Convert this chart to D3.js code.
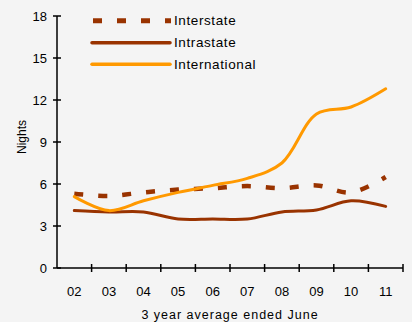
<!DOCTYPE html>
<html>
<head>
<meta charset="utf-8">
<script src="https://cdn.jsdelivr.net/npm/d3@7"></script>
<style>
  body { margin: 0; background: #f4f4f4; }
  svg { display: block; font-family: "Liberation Sans", Arial, sans-serif; }
</style>
</head>
<body>
<div id="chart"></div>
<script>
var years = ["02", "03", "04", "05", "06", "07", "08", "09", "10", "11"];
var interstate = [5.3, 5.15, 5.4, 5.6, 5.7, 5.85, 5.7, 5.9, 5.4, 6.5];
var intrastate = [4.1, 4.0, 4.0, 3.5, 3.5, 3.5, 4.0, 4.15, 4.8, 4.4];
var international = [5.1, 4.1, 4.8, 5.4, 5.9, 6.4, 7.5, 11.0, 11.5, 12.8];
var yTicks = [0, 3, 6, 9, 12, 15, 18];

var chartW = 412, chartH = 322;
var plotLeft = 57, plotRight = 403, plotTop = 16, plotBottom = 268;

var svg = d3.select("#chart").append("svg")
    .attr("width", chartW)
    .attr("height", chartH);

svg.append("rect").attr("width", chartW).attr("height", chartH).attr("fill", "#f4f4f4");

var x = d3.scaleBand().domain(years).range([plotLeft, plotRight]);
var y = d3.scaleLinear().domain([0, 18]).range([plotBottom, plotTop]);

// series
var series = [
    {name: "Interstate", values: interstate, color: "#993300", width: 4.5, dash: "9,15"},
    {name: "Intrastate", values: intrastate, color: "#993300", width: 3, dash: null},
    {name: "International", values: international, color: "#ff9900", width: 3, dash: null}
];

var line = d3.line()
    .x(function(d, i) { return x(years[i]) + x.bandwidth() / 2; })
    .y(function(d) { return y(d); })
    .curve(d3.curveCatmullRom.alpha(0.5));

series.forEach(function(s) {
    svg.append("path")
        .attr("d", line(s.values))
        .attr("fill", "none")
        .attr("stroke", s.color)
        .attr("stroke-width", s.width)
        .attr("stroke-dasharray", s.dash)
        .attr("stroke-linecap", s.dash ? "butt" : "round");
});

// axes
var yAxis = svg.append("g").attr("transform", "translate(" + plotLeft + ",0)");
yAxis.append("line").attr("y1", y(18)).attr("y2", y(0)).attr("stroke", "#000").attr("stroke-width", 1.5);
yAxis.selectAll(".tick").data(yTicks).enter().append("line")
    .attr("x1", -4).attr("x2", 4)
    .attr("y1", function(d) { return y(d); })
    .attr("y2", function(d) { return y(d); })
    .attr("stroke", "#000").attr("stroke-width", 1.5);
yAxis.selectAll(".lbl").data(yTicks).enter().append("text")
    .attr("x", -10)
    .attr("y", function(d) { return y(d); })
    .attr("dy", "0.35em")
    .attr("text-anchor", "end")
    .attr("font-size", 13)
    .text(function(d) { return d; });

var xAxis = svg.append("g");
xAxis.append("line").attr("x1", plotLeft).attr("x2", plotRight).attr("y1", plotBottom).attr("y2", plotBottom)
    .attr("stroke", "#000").attr("stroke-width", 1.5);
var bounds = years.map(function(d) { return x(d); }).concat([plotRight]);
xAxis.selectAll(".tick").data(bounds.slice(1)).enter().append("line")
    .attr("x1", function(d) { return d; })
    .attr("x2", function(d) { return d; })
    .attr("y1", plotBottom - 4).attr("y2", plotBottom + 4)
    .attr("stroke", "#000").attr("stroke-width", 1.5);
xAxis.selectAll(".lbl").data(years).enter().append("text")
    .attr("x", function(d) { return x(d) + x.bandwidth() / 2; })
    .attr("y", 296)
    .attr("text-anchor", "middle")
    .attr("font-size", 13)
    .text(function(d) { return d; });

svg.append("text")
    .attr("x", 230).attr("y", 319)
    .attr("text-anchor", "middle")
    .attr("font-size", 12.5)
    .attr("letter-spacing", 1)
    .text("3 year average ended June");

svg.append("text")
    .attr("transform", "translate(26,137) rotate(-90)")
    .attr("text-anchor", "middle")
    .attr("font-size", 12)
    .text("Nights");

// legend
var legendY = [20.7, 42.7, 64.3];
series.forEach(function(s, i) {
    svg.append("line")
        .attr("x1", 92).attr("x2", 170)
        .attr("y1", legendY[i]).attr("y2", legendY[i])
        .attr("stroke", s.color)
        .attr("stroke-width", s.dash ? 5 : 3.5)
        .attr("stroke-dasharray", s.dash ? "9,15" : null)
        .attr("stroke-linecap", s.dash ? "butt" : "round")
        .attr("transform", s.dash ? "translate(1,0)" : null);
    svg.append("text")
        .attr("x", 174).attr("y", legendY[i])
        .attr("dy", "0.35em")
        .attr("font-size", 13.5)
        .attr("letter-spacing", 0.6)
        .text(s.name);
});
</script>
</body>
</html>
